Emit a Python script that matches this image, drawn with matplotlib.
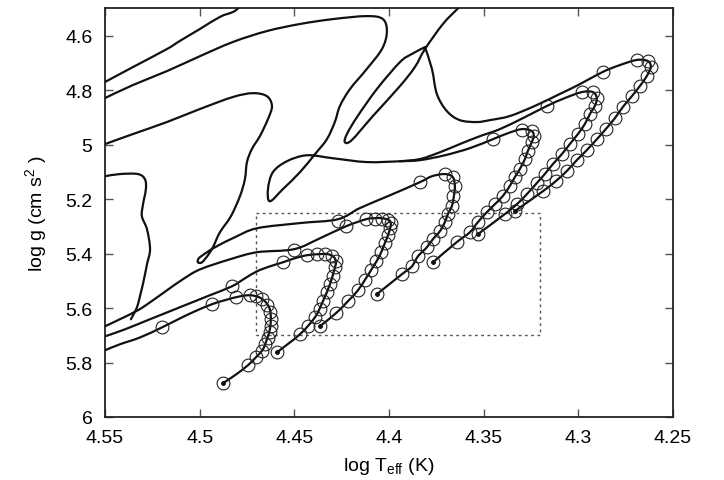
import matplotlib

matplotlib.use("Agg")

import matplotlib.pyplot as plt
import numpy as np
from matplotlib.patches import PathPatch
from matplotlib.path import Path

plt.rcParams["font.family"] = ["Liberation Sans", "DejaVu Sans"]
plt.rcParams["mathtext.default"] = "regular"

# ---- tracks with open-circle markers (log Teff, log g) ----
t1_x = [4.4877, 4.4808, 4.4745, 4.4703, 4.4666, 4.4645, 4.4629, 4.4624, 4.4629, 4.4650, 4.4687,
        4.4734, 4.4787, 4.4866, 4.4935, 4.5025, 4.5104, 4.5199, 4.5315, 4.5421, 4.5500]
t1_y = [5.876, 5.844, 5.810, 5.781, 5.752, 5.715, 5.678, 5.641, 5.605, 5.579, 5.560,
        5.553, 5.557, 5.571, 5.586, 5.612, 5.638, 5.671, 5.708, 5.733, 5.755]
t1_mx = [4.4877, 4.4745, 4.4703, 4.4671, 4.4655, 4.4639, 4.4629, 4.4624, 4.4624, 4.4629, 4.4645,
         4.4671, 4.4703, 4.4734, 4.4808, 4.4935, 4.5199]
t1_my = [5.876, 5.810, 5.781, 5.759, 5.733, 5.711, 5.689, 5.667, 5.641, 5.616, 5.590,
         5.568, 5.557, 5.553, 5.560, 5.586, 5.671]

t2_x = [4.4592, 4.4470, 4.4391, 4.4349, 4.4312, 4.4291, 4.4280, 4.4291, 4.4323, 4.4365, 4.4433,
        4.4497, 4.4560, 4.4629, 4.4697, 4.4761, 4.4829, 4.4946, 4.5104, 4.5262, 4.5394, 4.5500]
t2_y = [5.763, 5.696, 5.634, 5.575, 5.513, 5.465, 5.432, 5.413, 5.402, 5.402, 5.406,
        5.417, 5.432, 5.447, 5.465, 5.491, 5.520, 5.553, 5.597, 5.641, 5.678, 5.704]
t2_mx = [4.4592, 4.4470, 4.4428, 4.4391, 4.4365, 4.4349, 4.4328, 4.4312, 4.4296, 4.4286, 4.4280,
         4.4301, 4.4338, 4.4381, 4.4433, 4.4560, 4.4829]
t2_my = [5.763, 5.696, 5.667, 5.634, 5.605, 5.575, 5.542, 5.513, 5.483, 5.450, 5.428,
         5.410, 5.402, 5.402, 5.406, 5.432, 5.520]

t3_x = [4.4365, 4.4280, 4.4217, 4.4164, 4.4122, 4.4085, 4.4048, 4.4022, 4.4000, 4.3990, 4.4000,
        4.4037, 4.4074, 4.4122, 4.4228, 4.4365, 4.4502, 4.4697, 4.4840, 4.4998, 4.5088, 4.5173,
        4.5262, 4.5326, 4.5421, 4.5500]
t3_y = [5.667, 5.619, 5.575, 5.535, 5.491, 5.450, 5.406, 5.362, 5.322, 5.292, 5.277,
        5.270, 5.270, 5.274, 5.300, 5.344, 5.384, 5.395, 5.421, 5.458, 5.494, 5.535,
        5.579, 5.608, 5.641, 5.667]
t3_mx = [4.4365, 4.4280, 4.4217, 4.4164, 4.4127, 4.4096, 4.4069, 4.4043, 4.4022, 4.4006, 4.3995,
         4.3990, 4.4006, 4.4037, 4.4074, 4.4122, 4.4228, 4.4502]
t3_my = [5.667, 5.619, 5.575, 5.535, 5.498, 5.461, 5.428, 5.395, 5.362, 5.333, 5.307,
         5.288, 5.277, 5.274, 5.274, 5.274, 5.300, 5.388]

t4_x = [4.4064, 4.3932, 4.3879, 4.3847, 4.3800, 4.3768, 4.3731, 4.3705, 4.3689, 4.3668, 4.3657,
        4.3652, 4.3663, 4.3705, 4.3773, 4.3837, 4.3995, 4.4154, 4.4270, 4.4470, 4.4697, 4.4814,
        4.4909, 4.4961, 4.5004, 4.5009, 4.4988, 4.4956, 4.4930, 4.4893, 4.4835, 4.4787, 4.4761,
        4.4750, 4.4724, 4.4682, 4.4639, 4.4618, 4.4645, 4.4719, 4.4824, 4.4998, 4.5173, 4.5352,
        4.5500]
t4_y = [5.549, 5.476, 5.447, 5.410, 5.377, 5.347, 5.318, 5.285, 5.255, 5.226, 5.189,
        5.152, 5.119, 5.108, 5.116, 5.138, 5.186, 5.233, 5.274, 5.288, 5.307, 5.340,
        5.373, 5.395, 5.417, 5.432, 5.432, 5.406, 5.377, 5.322, 5.263, 5.189, 5.127,
        5.064, 5.016, 4.969, 4.906, 4.858, 4.822, 4.811, 4.825, 4.869, 4.917, 4.961,
        4.998]
t4_mx = [4.4064, 4.3932, 4.3879, 4.3847, 4.3800, 4.3768, 4.3731, 4.3705, 4.3689, 4.3668, 4.3663,
         4.3652, 4.3663, 4.3705, 4.3837, 4.4270]
t4_my = [5.549, 5.476, 5.447, 5.410, 5.377, 5.347, 5.318, 5.285, 5.255, 5.226, 5.189,
         5.152, 5.119, 5.108, 5.138, 5.281]

t5_x = [4.3768, 4.3642, 4.3573, 4.3531, 4.3483, 4.3441, 4.3399, 4.3362, 4.3335, 4.3309, 4.3282,
        4.3267, 4.3246, 4.3235, 4.3246, 4.3298, 4.3372, 4.3451, 4.3573, 4.3705, 4.3837, 4.3942,
        4.4117, 4.4296, 4.4433, 4.4539, 4.4613, 4.4639, 4.4629, 4.4560, 4.4470, 4.4391, 4.4328,
        4.4286, 4.4259, 4.4206, 4.4117, 4.4037, 4.4011, 4.4032, 4.4117, 4.4296, 4.4470, 4.4645,
        4.4824, 4.4998, 4.5173, 4.5352, 4.5500]
t5_y = [5.432, 5.358, 5.322, 5.285, 5.248, 5.219, 5.189, 5.152, 5.119, 5.090, 5.053,
        5.024, 4.991, 4.969, 4.950, 4.943, 4.958, 4.980, 5.013, 5.039, 5.057, 5.061,
        5.064, 5.050, 5.039, 5.061, 5.101, 5.163, 5.208, 5.163, 5.101, 5.035, 4.980,
        4.917, 4.858, 4.796, 4.722, 4.649, 4.586, 4.539, 4.528, 4.539, 4.557, 4.583,
        4.623, 4.675, 4.730, 4.781, 4.829]
t5_mx = [4.3768, 4.3642, 4.3573, 4.3531, 4.3483, 4.3441, 4.3399, 4.3362, 4.3335, 4.3309, 4.3282,
         4.3267, 4.3246, 4.3235, 4.3246, 4.3298, 4.3451]
t5_my = [5.432, 5.358, 5.322, 5.285, 5.248, 5.219, 5.189, 5.152, 5.119, 5.090, 5.053,
         5.024, 4.991, 4.969, 4.950, 4.947, 4.980]

t6_x = [4.3531, 4.3388, 4.3325, 4.3272, 4.3219, 4.3177, 4.3135, 4.3087, 4.3045, 4.3002, 4.2966,
        4.2939, 4.2913, 4.2902, 4.2923, 4.2981, 4.3071, 4.3166, 4.3282, 4.3414, 4.3520, 4.3626,
        4.3731, 4.3837, 4.3942]
t6_y = [5.329, 5.255, 5.219, 5.182, 5.141, 5.108, 5.072, 5.035, 4.998, 4.961, 4.925,
        4.888, 4.858, 4.829, 4.807, 4.807, 4.829, 4.858, 4.899, 4.943, 4.969, 4.998,
        5.028, 5.053, 5.061]
t6_mx = [4.3531, 4.3388, 4.3325, 4.3272, 4.3219, 4.3177, 4.3135, 4.3087, 4.3045, 4.3002, 4.2966,
         4.2939, 4.2913, 4.2902, 4.2923, 4.2981, 4.3166]
t6_my = [5.329, 5.255, 5.219, 5.182, 5.141, 5.108, 5.072, 5.035, 4.998, 4.961, 4.925,
         4.888, 4.858, 4.829, 4.807, 4.807, 4.858]

# track 7: hook and return to the cusp, then the narrow loop up to the top edge
t7_x = [4.3335, 4.3187, 4.3119, 4.3061, 4.3008, 4.2955, 4.2902, 4.2855, 4.2807, 4.2765, 4.2717,
        4.2675, 4.2638, 4.2617, 4.2633, 4.2691, 4.2781, 4.2871, 4.2992, 4.3098, 4.3230, 4.3362,
        4.3467, 4.3536, 4.3626, 4.3694, 4.3747, 4.3773, 4.3810]
t7_y = [5.244, 5.171, 5.134, 5.097, 5.057, 5.020, 4.980, 4.943, 4.903, 4.862, 4.822,
        4.785, 4.748, 4.715, 4.693, 4.689, 4.708, 4.733, 4.778, 4.814, 4.858, 4.895,
        4.910, 4.917, 4.910, 4.877, 4.814, 4.722, 4.642]
t7b_x = [4.3810, 4.3879, 4.3942, 4.4064, 4.4169, 4.4222, 4.4233, 4.4196, 4.4085, 4.3942, 4.3863,
         4.3810, 4.3715, 4.3636]
t7b_y = [4.642, 4.667, 4.697, 4.796, 4.899, 4.961, 4.991, 4.983, 4.895, 4.785, 4.715,
         4.649, 4.557, 4.500]
t7_mx = [4.3335, 4.3187, 4.3119, 4.3061, 4.3008, 4.2955, 4.2902, 4.2855, 4.2807, 4.2765, 4.2717,
         4.2675, 4.2638, 4.2617, 4.2633, 4.2691, 4.2871]
t7_my = [5.244, 5.171, 5.134, 5.097, 5.057, 5.020, 4.980, 4.943, 4.903, 4.862, 4.822,
         4.785, 4.748, 4.715, 4.693, 4.689, 4.733]

# ---- tracks drawn without markers ----
w_x = [4.5500, 4.5421, 4.5326, 4.5289, 4.5284, 4.5299, 4.5305, 4.5278, 4.5262, 4.5278, 4.5294,
       4.5310, 4.5331, 4.5363]
w_y = [5.116, 5.108, 5.108, 5.127, 5.163, 5.219, 5.263, 5.311, 5.384, 5.439, 5.494,
       5.542, 5.597, 5.641]

c1_x = [4.5500, 4.5352, 4.5173, 4.5104, 4.4998, 4.4893, 4.4824, 4.4798]
c1_y = [4.770, 4.715, 4.649, 4.619, 4.575, 4.531, 4.513, 4.500]

# dotted box
box_x = [4.47, 4.32]
box_y = [5.25, 5.70]

tracks = [
    (t1_x, t1_y, t1_mx, t1_my),
    (t2_x, t2_y, t2_mx, t2_my),
    (t3_x, t3_y, t3_mx, t3_my),
    (t4_x, t4_y, t4_mx, t4_my),
    (t5_x, t5_y, t5_mx, t5_my),
    (t6_x, t6_y, t6_mx, t6_my),
    (t7_x, t7_y, t7_mx, t7_my),
]
plain_lines = [(t7b_x, t7b_y), (w_x, w_y), (c1_x, c1_y)]


def smooth_path(xs, ys):
    # Catmull-Rom through the read points, written as cubic Bezier segments
    pts = np.column_stack([xs, ys])
    padded = np.vstack([pts[0], pts, pts[-1]])
    verts = [pts[0]]
    codes = [Path.MOVETO]
    for i in range(1, len(padded) - 2):
        p0, p1, p2, p3 = padded[i - 1], padded[i], padded[i + 1], padded[i + 2]
        verts += [p1 + (p2 - p0) / 6.0, p2 - (p3 - p1) / 6.0, p2]
        codes += [Path.CURVE4] * 3
    return Path(verts, codes)


def draw_line(axis, xs, ys):
    patch = PathPatch(smooth_path(xs, ys), facecolor="none", edgecolor="#111111",
                      lw=1.6, joinstyle="round", capstyle="round", zorder=3)
    axis.add_patch(patch)


fig = plt.figure(figsize=(7.24, 4.81), dpi=100)
ax = fig.add_axes([0.1450, 0.1310, 0.7845, 0.8493])

for lx, ly, mx, my in tracks:
    draw_line(ax, lx, ly)
    ax.plot(mx, my, ls="none", marker="o", ms=9.2, mfc="none", mec="#222222", mew=0.8, zorder=4)
    ax.plot(lx[0], ly[0], ls="none", marker="o", ms=2.5, color="#111111", zorder=5)

for lx, ly in plain_lines:
    draw_line(ax, lx, ly)

ax.plot([box_x[0], box_x[1], box_x[1], box_x[0], box_x[0]],
        [box_y[0], box_y[0], box_y[1], box_y[1], box_y[0]],
        color="#555555", lw=1.0, ls=(0, (2, 2.5)), zorder=2)

ax.set_xlim(4.55, 4.25)
ax.set_ylim(6.0, 4.5)
ax.set_xticks([4.55, 4.5, 4.45, 4.4, 4.35, 4.3, 4.25])
ax.set_xticklabels(["4.55", "4.5", "4.45", "4.4", "4.35", "4.3", "4.25"])
ax.set_yticks([4.6, 4.8, 5.0, 5.2, 5.4, 5.6, 5.8, 6.0])
ax.set_yticklabels(["4.6", "4.8", "5", "5.2", "5.4", "5.6", "5.8", "6"])
ax.tick_params(direction="in", length=6, width=1.0, color="#555555", labelsize=14,
               top=True, right=True, pad=9)
for spine in ax.spines.values():
    spine.set_linewidth(1.3)
    spine.set_color("#222222")

ax.set_xlabel("log T$_{eff}$ (K)", fontsize=14, labelpad=6)
ax.set_ylabel("log g (cm s$^2$ )", fontsize=14, labelpad=12)

fig.savefig("out.png", dpi=100)
plt.close(fig)
